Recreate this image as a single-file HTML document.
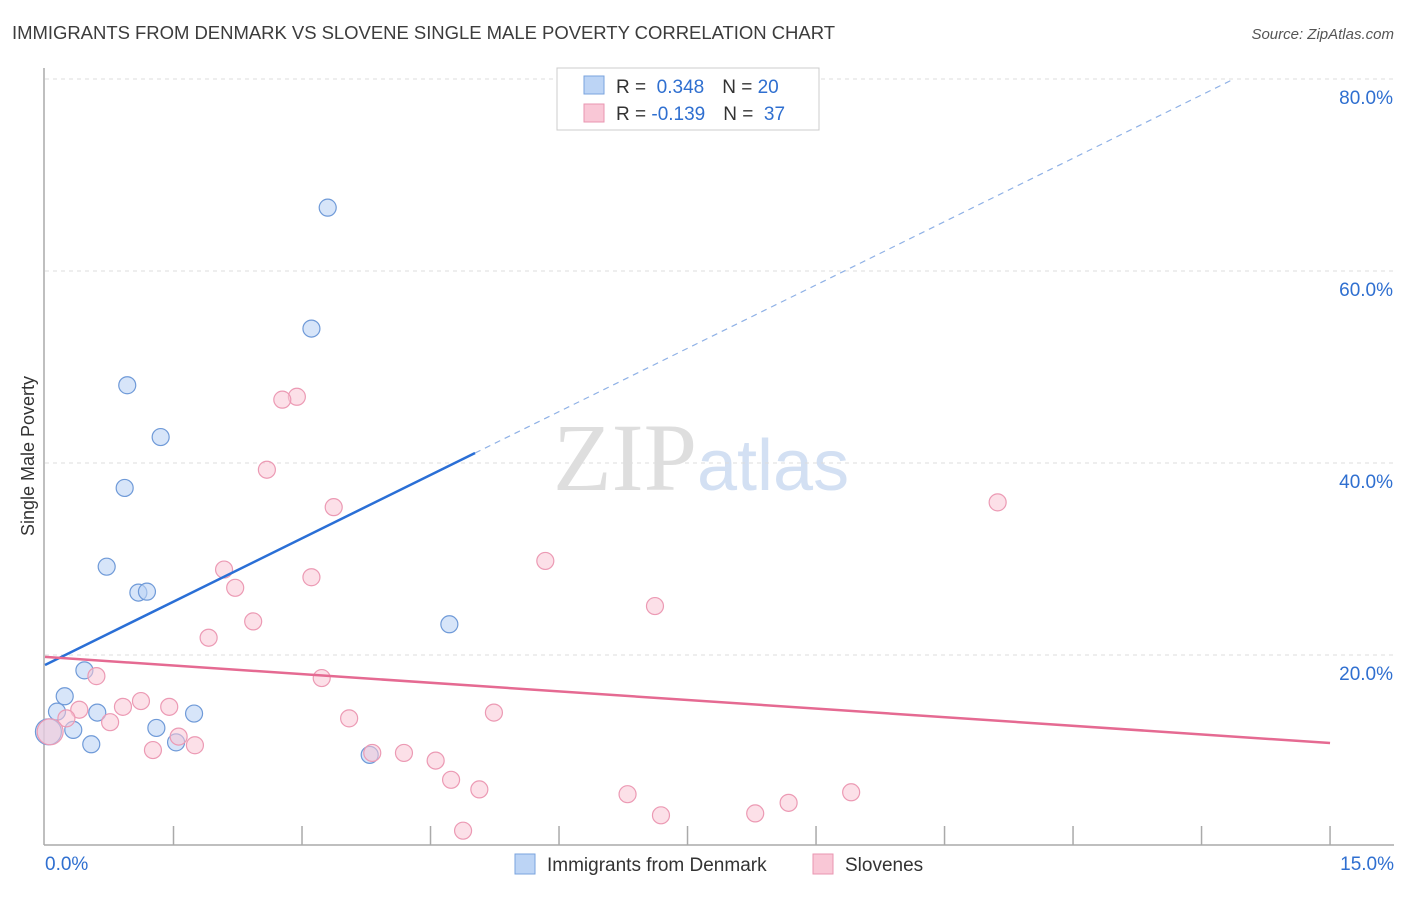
<!DOCTYPE html>
<html><head><meta charset="utf-8"><style>
body{margin:0;background:#fff;font-family:"Liberation Sans",sans-serif;}
</style></head><body>
<svg id="chart" width="1406" height="892" viewBox="0 0 1406 892" xmlns="http://www.w3.org/2000/svg">
<text x="12" y="39" font-size="18.5" fill="#3c3c3c" font-family="Liberation Sans, sans-serif" textLength="823">IMMIGRANTS FROM DENMARK VS SLOVENE SINGLE MALE POVERTY CORRELATION CHART</text>
<text x="1394" y="39" font-size="15" fill="#555" font-style="italic" text-anchor="end">Source: ZipAtlas.com</text>
<text x="553" y="490" font-size="96" fill="#dedede" font-family="Liberation Serif, serif">ZIP<tspan fill="#d3e0f3" font-family="Liberation Sans, sans-serif" font-size="72">atlas</tspan></text>
<g id="grid"></g>
<g id="axes"></g>
<g id="marks"></g>
<text transform="translate(34,456) rotate(-90)" font-size="18" fill="#333" text-anchor="middle">Single Male Poverty</text>
<g>
<rect x="557" y="68" width="262" height="62" fill="#fff" stroke="#ccc"/>
<rect x="584" y="76" width="20" height="18" fill="#bcd4f5" stroke="#7aa3de"/>
<rect x="584" y="104" width="20" height="18" fill="#f9c7d6" stroke="#e996b0"/>
<text x="616" y="93" font-size="19" fill="#333">R = <tspan fill="#2f6fd0">&#160;0.348</tspan><tspan dx="18">N = </tspan><tspan fill="#2f6fd0">20</tspan></text>
<text x="616" y="120" font-size="19" fill="#333">R = <tspan fill="#2f6fd0">-0.139</tspan><tspan dx="18">N = </tspan><tspan fill="#2f6fd0">&#160;37</tspan></text>
</g>
<g>
<rect x="515" y="854" width="20" height="20" fill="#bcd4f5" stroke="#7aa3de"/>
<text x="547" y="871" font-size="19" fill="#333">Immigrants from Denmark</text>
<rect x="813" y="854" width="20" height="20" fill="#f9c7d6" stroke="#e996b0"/>
<text x="845" y="871" font-size="19" fill="#333">Slovenes</text>
</g>
</svg>
<script>
const blueX=[3.30,3.11,0.96,1.35,0.93,0.72,1.09,1.19,4.72,0.46,0.23,0.14,0.61,0.33,1.30,1.74,1.53,0.54,3.79,0.04];
const blueY=[66.6,54.0,48.1,42.7,37.4,29.2,26.5,26.6,23.2,18.4,15.7,14.1,14.0,12.2,12.4,13.9,10.9,10.7,9.6,12.0];
const pinkX=[2.94,2.77,2.59,3.37,5.84,2.09,3.11,2.22,7.12,2.43,1.91,0.60,3.23,1.12,1.45,0.91,0.40,0.25,0.76,3.55,5.24,1.56,1.75,1.26,3.82,4.19,4.56,4.74,5.07,6.80,9.41,8.68,7.19,8.29,4.88,11.12,0.06];
const pinkY=[46.9,46.6,39.3,35.4,29.8,28.9,28.1,27.0,25.1,23.5,21.8,17.8,17.6,15.2,14.6,14.6,14.3,13.4,13.0,13.4,14.0,11.5,10.6,10.1,9.8,9.8,9.0,7.0,6.0,5.5,5.7,4.6,3.3,3.5,1.7,35.9,12.0];
const yTicks=[20,40,60,80];
const blueLine=[0,18.96,5.02,41.04];
const pinkLine=[0,19.8,15,10.83];
const X=v=>45+v*85.67, Y=v=>847-v*9.6;
const NS='http://www.w3.org/2000/svg';
function mk(p,t,a){const e=document.createElementNS(NS,t);for(const k in a)e.setAttribute(k,a[k]);p.appendChild(e);return e;}
const grid=document.getElementById('grid'),axes=document.getElementById('axes'),marks=document.getElementById('marks');
yTicks.forEach(t=>{
 const l=mk(grid,'line',{x1:45,x2:1394,y1:Y(t),y2:Y(t),stroke:'#ddd','stroke-dasharray':'4,4'});
 
 
 const tx=mk(grid,'text',{x:1393,y:Y(t)+25,'font-size':19,fill:'#2f6fd0','text-anchor':'end'});
 tx.textContent=t.toFixed(1)+'%';
 
 
});
mk(axes,'line',{x1:44,x2:44,y1:68,y2:845,stroke:'#aaa','stroke-width':1.5});
mk(axes,'line',{x1:44,x2:1394,y1:845,y2:845,stroke:'#aaa','stroke-width':1.5});
for(let i=1;i<=10;i++){mk(axes,'line',{x1:X(i*1.5),x2:X(i*1.5),y1:826,y2:845,stroke:'#aaa','stroke-width':1.5});}
const t0=mk(axes,'text',{x:45,y:870,'font-size':19,fill:'#2f6fd0'});t0.textContent='0.0%';


const t1=mk(axes,'text',{x:1394,y:870,'font-size':19,fill:'#2f6fd0','text-anchor':'end'});t1.textContent='15.0%';


function pts(xs,ys,fill,stroke,name){xs.forEach((x,i)=>{
 const big=i===xs.length-1&&x<0.1;
 const c=mk(marks,'circle',{cx:X(x),cy:Y(ys[i]),r:big?13:8.5,fill:fill,stroke:stroke,'stroke-width':1.2});
 
 
});}
pts(blueX,blueY,'rgba(188,212,245,0.6)','#6f9ad8','denmark-point');
pts(pinkX,pinkY,'rgba(249,199,214,0.55)','#ec9ab4','slovene-point');
const bs=(blueLine[3]-blueLine[1])/(blueLine[2]-blueLine[0]);
const bl=mk(marks,'line',{x1:X(0),y1:Y(blueLine[1]),x2:X(blueLine[2]),y2:Y(blueLine[3]),stroke:'#2a6fd6','stroke-width':2.5});


const xe=(80-blueLine[1])/bs;
const bd=mk(marks,'line',{x1:X(blueLine[2]),y1:Y(blueLine[3]),x2:X(xe),y2:Y(blueLine[1]+bs*xe),stroke:'#8fb1e6','stroke-width':1.2,'stroke-dasharray':'6,5'});


const pl=mk(marks,'line',{x1:X(pinkLine[0]),y1:Y(pinkLine[1]),x2:X(pinkLine[2]),y2:Y(pinkLine[3]),stroke:'#e56a92','stroke-width':2.5});


</script>
</body></html>
